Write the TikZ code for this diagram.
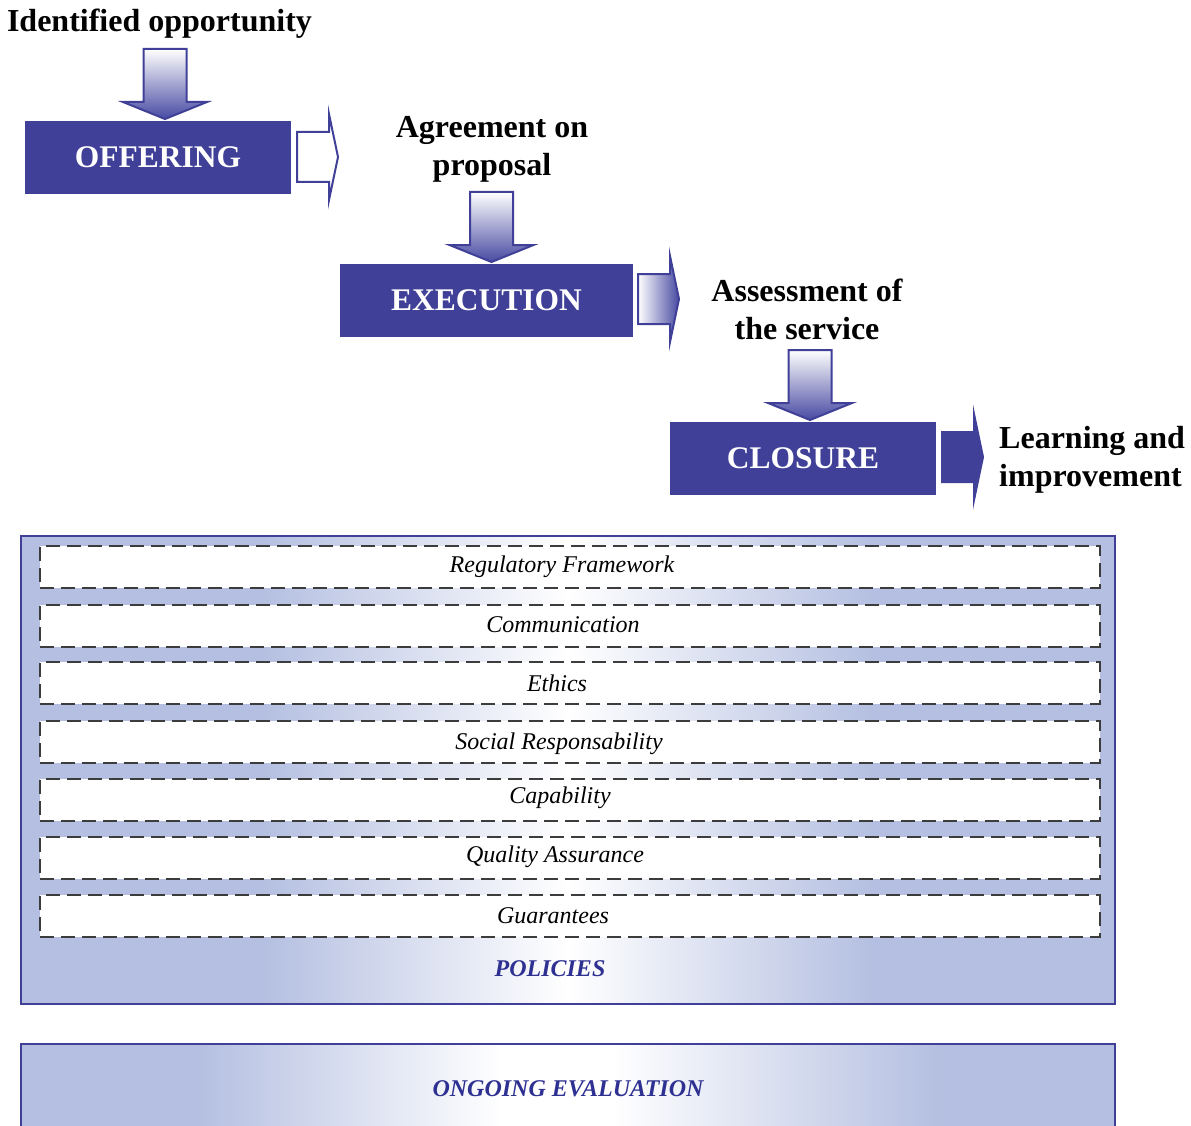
\documentclass[tikz,border=0pt]{standalone}
\usepackage{fontspec}
\setmainfont{Liberation Serif}
\definecolor{boxblue}{RGB}{64,64,152}
\definecolor{arrowblue}{RGB}{72,74,162}
\definecolor{lightblue}{RGB}{180,191,225}
\definecolor{txtblue}{RGB}{46,49,146}
\definecolor{dashgray}{RGB}{60,60,60}
\pgfdeclarehorizontalshading{polshade}{100bp}{color(0bp)=(lightblue); color(25bp)=(lightblue); color(36bp)=(lightblue); color(50bp)=(white); color(64bp)=(lightblue); color(75bp)=(lightblue); color(100bp)=(lightblue)}
\pgfdeclarehorizontalshading{evalshade}{100bp}{color(0bp)=(lightblue); color(25bp)=(lightblue); color(33bp)=(lightblue); color(47bp)=(white); color(52bp)=(white); color(67bp)=(lightblue); color(75bp)=(lightblue); color(100bp)=(lightblue)}
\begin{document}
\begin{tikzpicture}[x=1pt,y=-1pt,
  stage/.style={fill=boxblue, text=white, inner sep=0pt, font=\fontsize{31.5}{36}\selectfont\bfseries},
  lbl/.style={inner sep=0pt, text=black, font=\fontsize{32}{38}\selectfont\bfseries},
  rowbox/.style={draw=dashgray, line width=1.4pt, dash pattern=on 14pt off 7pt, fill=white, minimum width=1060pt, minimum height=42pt, inner sep=0pt},
  rowtxt/.style={inner sep=0pt, font=\fontsize{24}{28}\selectfont\itshape},
  bigtxt/.style={inner sep=0pt, text=txtblue, font=\fontsize{24}{28}\selectfont\bfseries\itshape},
  outl/.style={draw=boxblue, line width=2pt, line join=miter},
  dnarrow/.pic={\path[outl, top color=white, bottom color=arrowblue]
     (-21.5,0) -- (21.5,0) -- (21.5,53) -- (42,53) -- (0,70) -- (-42,53) -- (-21.5,53) -- cycle;},
  rtarrow/.pic={\path[outl, pic actions]
     (0,-25) -- (32,-25) -- (32,-43) -- (41,0) -- (32,43) -- (32,25) -- (0,25) -- cycle;}
]
\useasboundingbox (0,0) rectangle (1191,1126);
\clip (0,0) rectangle (1191,1126);

% process stages
\node[lbl, anchor=base] (idop) at (159.5,32) {Identified opportunity};
\pic at (165,49) {dnarrow};
\node[stage, minimum width=266pt, minimum height=73pt] (off) at (158,157.5) {OFFERING};
\pic[fill=white] at (297,157) {rtarrow};

\node[lbl, anchor=base, align=center] (agr) at (492,176) {Agreement on\\proposal};
\pic at (491.5,192) {dnarrow};
\node[stage, minimum width=293pt, minimum height=73pt] (exe) at (486.5,300.5) {EXECUTION};
\pic[left color=white, right color=arrowblue] at (638,299) {rtarrow};

\node[lbl, anchor=base, align=center] (ass) at (807,339) {Assessment of\\the service};
\pic at (810,350) {dnarrow};
\node[stage, minimum width=266pt, minimum height=73pt] (clo) at (803,458.5) {CLOSURE};
\pic[fill=boxblue] at (942,457) {rtarrow};

\node[lbl, anchor=base west, align=left] (lrn) at (999,486) {Learning and\\improvement};

% policies
\path[draw=boxblue, line width=2.5pt, shading=polshade] (21,536) rectangle (1115,1004);
\node[rowbox] (r1) at (570,567) {};
\node[rowbox] (r2) at (570,626) {};
\node[rowbox] (r3) at (570,683) {};
\node[rowbox] (r4) at (570,742) {};
\node[rowbox] (r5) at (570,800) {};
\node[rowbox] (r6) at (570,858) {};
\node[rowbox] (r7) at (570,916) {};
\node[rowtxt] (t1) at (562,567) {Regulatory Framework};
\node[rowtxt] (t2) at (563,625) {Communication};
\node[rowtxt] (t3) at (557,683) {Ethics};
\node[rowtxt] (t4) at (559,744) {Social Responsability};
\node[rowtxt] (t5) at (560,798) {Capability};
\node[rowtxt] (t6) at (555,857) {Quality Assurance};
\node[rowtxt] (t7) at (553,916) {Guarantees};
\node[bigtxt] (pol) at (550,969) {POLICIES};

% ongoing evaluation
\path[draw=boxblue, line width=2.5pt, shading=evalshade] (21,1044) rectangle (1115,1150);
\node[bigtxt] (eval) at (568,1089) {ONGOING EVALUATION};
\end{tikzpicture}
\end{document}
